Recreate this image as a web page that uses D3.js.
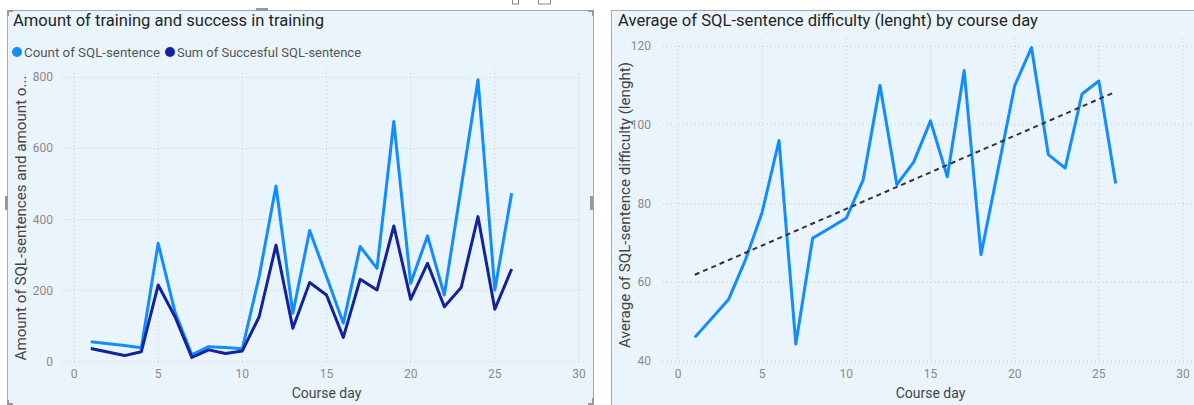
<!DOCTYPE html>
<html>
<head>
<meta charset="utf-8">
<script src="https://cdn.jsdelivr.net/npm/d3@7"></script>
<style>
  body { margin: 0; background: #fff; }
  text { font-family: "Roboto", "Noto Sans", sans-serif; }
</style>
</head>
<body>
<svg id="chart"></svg>
<script>
// 画面サイズ
var w = 1194;
var h = 405;

// left chart data (course day -> counts)
var days = [1, 3, 4, 5, 6, 7, 8, 9, 10, 11, 12, 13, 14, 15, 16, 17, 18, 19, 20, 21, 22, 23, 24, 25, 26];
var countSql = [57, 46, 40, 333, 140, 20, 43, 41, 37, 240, 494, 137, 369, 240, 109, 324, 263, 675, 221, 354, 188, 490, 792, 202, 474];
var successSql = [38, 18, 29, 216, 127, 13, 34, 24, 31, 127, 328, 95, 223, 188, 69, 232, 202, 382, 176, 277, 155, 209, 408, 148, 261];

// right chart data
var avgDays = [1, 3, 4, 5, 6, 7, 8, 9, 10, 11, 12, 13, 14, 15, 16, 17, 18, 19, 20, 21, 22, 23, 24, 25, 26];
var avgLength = [46, 55.6, 65.6, 77.8, 96, 44.3, 71.2, 73.7, 76.3, 86, 110, 84.8, 90.5, 101, 86.8, 113.8, 67, 88.4, 109.9, 119.6, 92.4, 89, 107.8, 111.1, 85.1];

var xTicks = [0, 5, 10, 15, 20, 25, 30];
var leftYTicks = [0, 200, 400, 600, 800];
var rightYTicks = [40, 60, 80, 100, 120];

var c1 = "#118DFF";
var c2 = "#12239E";
var bg = "#EAF4FD";

var svg = d3.select("#chart").attr("width", w).attr("height", h);

// panels
svg.append("rect").attr("x", 7.5).attr("y", 10.5).attr("width", 586).attr("height", 400)
   .attr("fill", bg).attr("stroke", "#a8a8a8");
svg.append("rect").attr("x", 611.5).attr("y", 10.5).attr("width", 590).attr("height", 400)
   .attr("fill", bg).attr("stroke", "#a8a8a8");

// selection handles (left panel) + small header icons
var hs = [[7, 10, 6, 2], [7, 10, 2, 6], [588, 10, 6, 2], [592, 10, 2, 6], [7, 400, 2, 6], [7, 403, 6, 2],
          [588, 403, 6, 2], [592, 398, 2, 6], [5, 196, 3, 14], [590, 196, 3, 14], [256, 8, 12, 3]];
svg.selectAll(".handle").data(hs).enter().append("rect")
   .attr("x", d => d[0]).attr("y", d => d[1]).attr("width", d => d[2]).attr("height", d => d[3])
   .attr("fill", "#999");
svg.append("rect").attr("x", 512.5).attr("y", -2).attr("width", 6).attr("height", 6)
   .attr("fill", "none").attr("stroke", "#888");
svg.append("rect").attr("x", 538.5).attr("y", -2).attr("width", 12).attr("height", 6)
   .attr("fill", "none").attr("stroke", "#888");

function drawChart(cfg) {
   var x = d3.scaleLinear().domain([0, 30]).range(cfg.xr);
   var y = d3.scaleLinear().domain(cfg.yd).range(cfg.yr);
   var g = svg.append("g");

   // grid
   g.selectAll(".hg").data(cfg.yTicks).enter().append("line")
      .attr("x1", cfg.gx[0]).attr("x2", cfg.gx[1])
      .attr("y1", d => y(d)).attr("y2", d => y(d))
      .attr("stroke", "#c8ccd2").attr("stroke-dasharray", "1,3");
   g.selectAll(".vg").data(xTicks).enter().append("line")
      .attr("x1", d => x(d)).attr("x2", d => x(d))
      .attr("y1", cfg.yr[1] - 8).attr("y2", cfg.yr[0])
      .attr("stroke", "#c8ccd2").attr("stroke-dasharray", "1,3");

   // tick labels
   g.selectAll(".yl").data(cfg.yTicks).enter().append("text")
      .attr("x", cfg.ylx).attr("y", d => y(d) + 4)
      .attr("text-anchor", "end").attr("fill", "#8a8a8a").style("font-size", "12px")
      .text(d => d);
   g.selectAll(".xl").data(xTicks).enter().append("text")
      .attr("x", d => x(d)).attr("y", 378)
      .attr("text-anchor", "middle").attr("fill", "#8a8a8a").style("font-size", "12px")
      .text(d => d);

   // axis titles
   g.append("text").attr("x", (cfg.xr[0] + cfg.xr[1]) / 2).attr("y", 398)
      .attr("text-anchor", "middle").attr("fill", "#444").style("font-size", "14px")
      .text("Course day");
   g.append("text")
      .attr("transform", "translate(" + cfg.ytx + "," + cfg.yty + ") rotate(-90)")
      .attr("text-anchor", "middle").attr("fill", "#444").style("font-size", "14.5px")
      .attr("textLength", cfg.ytl).attr("lengthAdjust", "spacingAndGlyphs")
      .text(cfg.ytitle);

   // title
   g.append("text").attr("x", cfg.tx).attr("y", 26)
      .attr("fill", "#252423").style("font-size", "16.5px")
      .attr("textLength", cfg.tl).attr("lengthAdjust", "spacingAndGlyphs")
      .text(cfg.title);

   return {x: x, y: y, g: g};
}

// ----- left chart -----
var L = drawChart({
   xr: [74, 579], yd: [0, 800], yr: [362, 77], yTicks: leftYTicks,
   gx: [62, 582], ylx: 53, ytx: 26, yty: 218, ytl: 285,
   ytitle: "Amount of SQL-sentences and amount o...",
   tx: 13, tl: 311, title: "Amount of training and success in training"
});

var lineL1 = d3.line().x((d, i) => L.x(days[i])).y(d => L.y(d));
L.g.append("path").datum(countSql).attr("d", lineL1)
   .attr("fill", "none").attr("stroke", c1).attr("stroke-width", 3).attr("stroke-linejoin", "round");
L.g.append("path").datum(successSql).attr("d", lineL1)
   .attr("fill", "none").attr("stroke", c2).attr("stroke-width", 3).attr("stroke-linejoin", "round");

// legend
var legend = [["Count of SQL-sentence", c1, 136], ["Sum of Succesful SQL-sentence", c2, 184]];
var lx = 17;
legend.forEach(function (d) {
   svg.append("circle").attr("cx", lx).attr("cy", 52).attr("r", 5).attr("fill", d[1]);
   svg.append("text").attr("x", lx + 7).attr("y", 57)
      .attr("fill", "#555").style("font-size", "13px")
      .attr("textLength", d[2]).attr("lengthAdjust", "spacingAndGlyphs").text(d[0]);
   lx += d[2] + 17;
});

// ----- right chart -----
var R = drawChart({
   xr: [678, 1183], yd: [40, 120], yr: [361, 46], yTicks: rightYTicks,
   gx: [663, 1192], ylx: 651, ytx: 630, yty: 205, ytl: 286,
   ytitle: "Average of SQL-sentence difficulty (lenght)",
   tx: 618, tl: 420, title: "Average of SQL-sentence difficulty (lenght) by course day"
});

var lineR = d3.line().x((d, i) => R.x(avgDays[i])).y(d => R.y(d));
R.g.append("path").datum(avgLength).attr("d", lineR)
   .attr("fill", "none").attr("stroke", c1).attr("stroke-width", 3).attr("stroke-linejoin", "round");

// trend line (least squares)
var mx = d3.mean(avgDays), my = d3.mean(avgLength);
var sxy = d3.sum(avgDays, (d, i) => (d - mx) * (avgLength[i] - my));
var sxx = d3.sum(avgDays, d => (d - mx) * (d - mx));
var slope = sxy / sxx, icpt = my - slope * mx;
var t0 = d3.min(avgDays), t1 = d3.max(avgDays);
R.g.append("line")
   .attr("x1", R.x(t0)).attr("y1", R.y(icpt + slope * t0))
   .attr("x2", R.x(t1)).attr("y2", R.y(icpt + slope * t1))
   .attr("stroke", "#333").attr("stroke-width", 2).attr("stroke-dasharray", "5,4");
</script>
</body>
</html>
